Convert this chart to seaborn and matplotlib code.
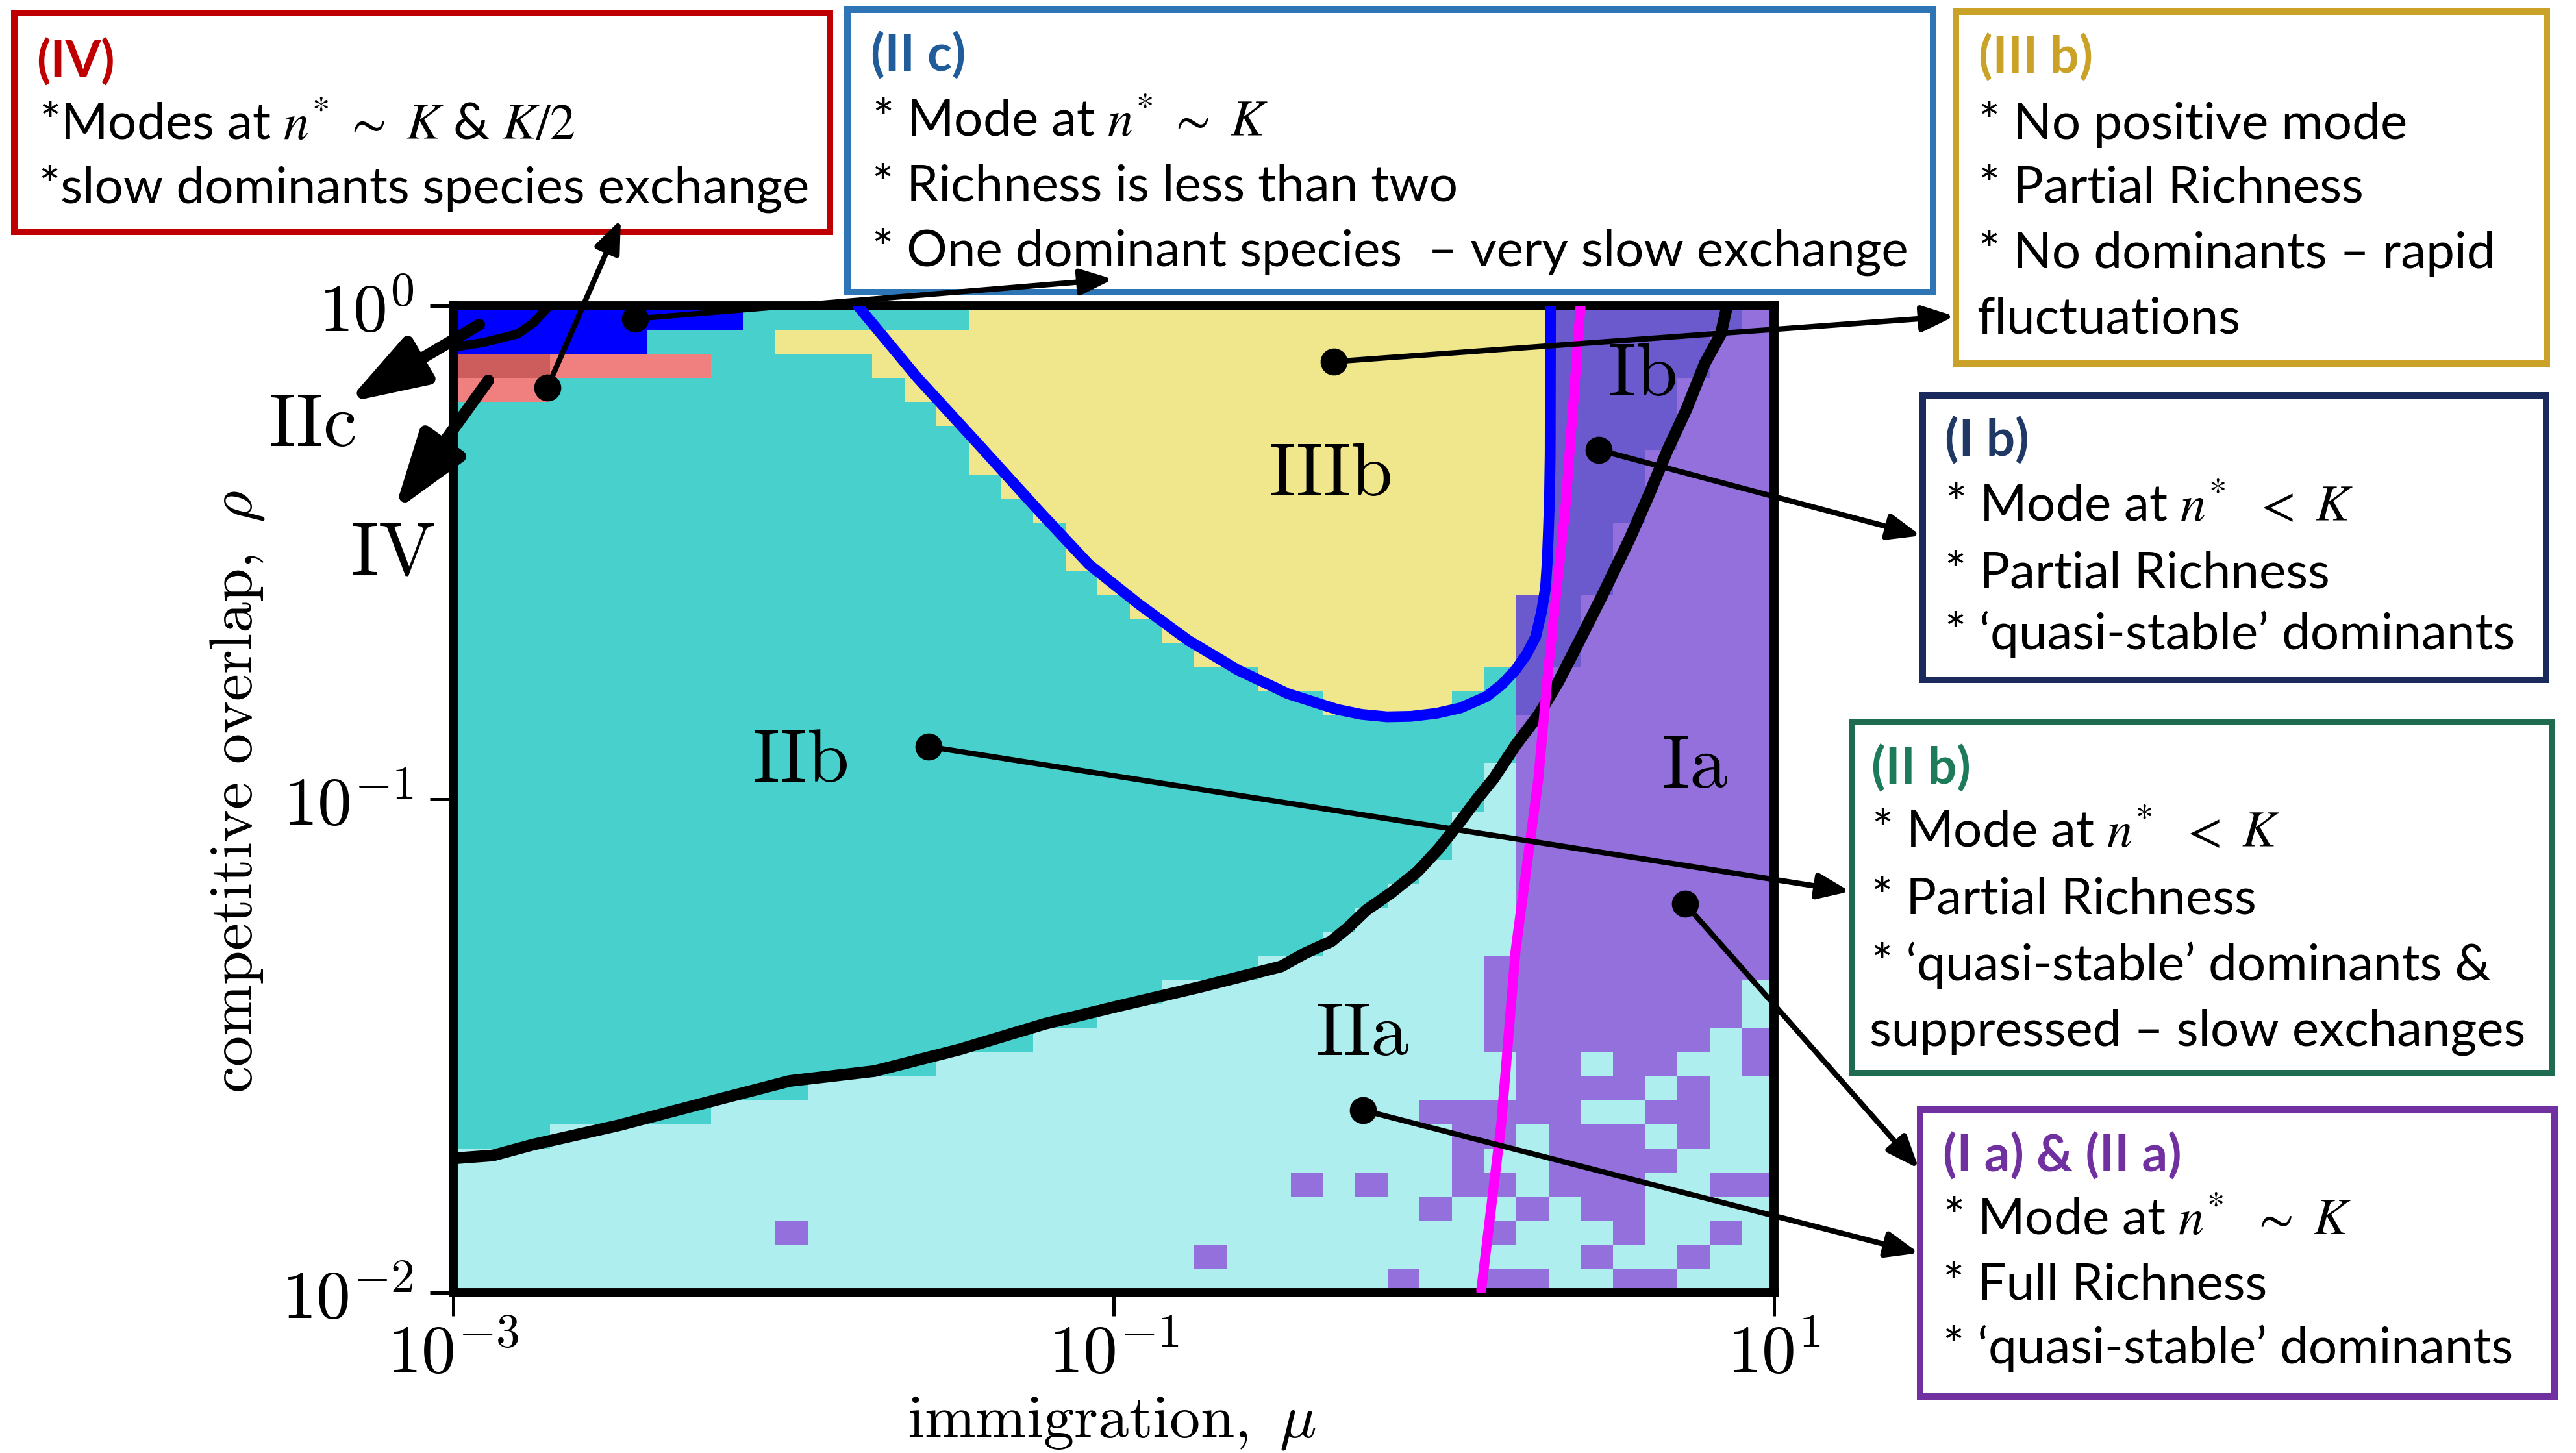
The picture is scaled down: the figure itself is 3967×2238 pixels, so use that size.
import numpy as np
import matplotlib
matplotlib.use("Agg")
import matplotlib.pyplot as plt
import seaborn as sns
from matplotlib.colors import ListedColormap
from matplotlib.patches import Rectangle, FancyArrowPatch
from matplotlib.ticker import FixedLocator, FuncFormatter, NullLocator

# ------------------------------------------------------------------ data
category_codes = ["B", "D", "P", "T", "L", "Y", "S", "M"]
category_names = ["IIc", "IV (overlap)", "IV", "IIb", "IIa", "IIIb", "Ib", "Ia"]
category_colors = ["#0000FF", "#CD5C5C", "#F08080", "#48D1CC",
                   "#AFEEEE", "#F0E68C", "#6A5ACD", "#9370DB"]

mu_limits = [1e-3, 1e1]       # immigration axis
rho_limits = [1e-2, 1e0]      # competitive overlap axis
mu_ticks = [1e-3, 1e-1, 1e1]
rho_ticks = [1e-2, 1e-1, 1e0]

# phase of each grid cell, run-length coded, top row (rho = 1) first
phase_rows = [
    "B9 T7 Y18 S6 M1",
    "B6 T4 Y24 S5 M2",
    "D3 P5 T5 Y21 S5 M2",
    "P3 T11 Y20 S4 M3",
    "T15 Y19 S4 M3",
    "T16 Y18 S4 M3",
    "T16 Y18 S3 M4",
    "T17 Y17 S3 M4",
    "T18 Y16 S3 M4",
    "T19 Y15 S2 M5",
    "T19 Y15 S2 M5",
    "T20 Y14 S2 M5",
    "T21 Y12 S2 M6",
    "T22 Y11 S2 M6",
    "T23 Y10 S2 M6",
    "T25 Y7 T1 S1 M7",
    "T27 Y4 T2 S1 M7",
    "T33 M8",
    "T33 M8",
    "T32 L1 M8",
    "T32 L1 M8",
    "T31 L2 M8",
    "T31 L2 M8",
    "T30 L3 M8",
    "T29 L4 M8",
    "T28 L5 M8",
    "T27 L6 M8",
    "T25 L7 M9",
    "T22 L10 M8 L1",
    "T20 L12 M8 L1",
    "T18 L14 M7 L1 M1",
    "T15 L18 M2 L1 M2 L2 M1",
    "T11 L22 M4 L1 M1 L2",
    "T8 L22 M5 L2 M2 L2",
    "T3 L28 M2 L1 M3 L1 M1 L2",
    "L31 M1 L2 M4 L3",
    "L26 M1 L1 M1 L2 M2 L1 M3 L2 M2",
    "L30 M1 L2 M1 L1 M2 L4",
    "L10 M1 L21 M1 L3 M1 L2 M1 L1",
    "L23 M1 L11 M1 L2 M1 L2",
    "L29 M1 L2 M2 L2 M2 L3",
]

# phase boundaries (log10 mu, log10 rho)
blue_log_mu = [-1.775, -1.594, -1.401, -1.226, -1.075, -0.925, -0.774, -0.624,
               -0.473, -0.323, -0.250, -0.172, -0.100, -0.023, 0.050, 0.129,
               0.175, 0.217, 0.250, 0.278, 0.296, 0.308, 0.313, 0.316, 0.320,
               0.322, 0.323]
blue_log_rho = [0.000, -0.146, -0.287, -0.416, -0.524, -0.604, -0.678, -0.738,
                -0.786, -0.818, -0.828, -0.833, -0.832, -0.826, -0.815, -0.792,
                -0.768, -0.738, -0.707, -0.671, -0.620, -0.571, -0.520, -0.470,
                -0.390, -0.301, 0.000]

black_log_mu = [-3.000, -2.880, -2.758, -2.499, -2.241, -1.981, -1.724, -1.466,
                -1.207, -0.990, -0.735, -0.493, -0.420, -0.341, -0.290, -0.235,
                -0.160, -0.080, -0.015, 0.050, 0.100, 0.150, 0.217, 0.288,
                0.347, 0.410, 0.477, 0.563, 0.620, 0.677, 0.734, 0.790, 0.839,
                0.858]
black_log_rho = [-1.728, -1.722, -1.700, -1.661, -1.616, -1.571, -1.551, -1.507,
                 -1.455, -1.420, -1.380, -1.339, -1.312, -1.288, -1.260, -1.225,
                 -1.190, -1.147, -1.100, -1.045, -1.000, -0.959, -0.891, -0.828,
                 -0.762, -0.680, -0.591, -0.472, -0.385, -0.293, -0.211, -0.117,
                 -0.057, 0.000]

iic_log_mu = [-3.000, -2.906, -2.805, -2.756, -2.719, -2.710]
iic_log_rho = [-0.084, -0.074, -0.057, -0.034, -0.007, 0.000]

magenta_log_mu = [0.414, 0.369, 0.316, 0.286, 0.217, 0.174, 0.113]
magenta_log_rho = [0.000, -0.403, -0.738, -0.960, -1.308, -1.657, -1.996]

# region labels (log10 mu, log10 rho)
region_labels = ["IIIb", "IIb", "IIa", "Ib", "Ia"]
region_label_log_mu = [-0.345, -1.950, -0.247, 0.599, 0.760]
region_label_log_rho = [-0.342, -0.922, -1.475, -0.139, -0.933]

# ------------------------------------------------------------------ figure
W, H = 3967, 2238
DPI = 200
fig = plt.figure(figsize=(W / DPI, H / DPI), dpi=DPI)
plt.rcParams["mathtext.fontset"] = "cm"

AX_L, AX_R, AX_T, AX_B = 698, 2732, 471, 1991
pos = [AX_L / W, 1 - AX_B / H, (AX_R - AX_L) / W, (AX_B - AX_T) / H]


def decode(row):
    out = []
    for tok in row.split():
        out += [tok[0]] * int(tok[1:])
    return out


grid = np.array([[category_codes.index(c) for c in decode(r)] for r in phase_rows])

ax_h = fig.add_axes(pos)
ax_h.set_zorder(1)
sns.heatmap(grid, ax=ax_h, cmap=ListedColormap(category_colors),
            vmin=-0.5, vmax=len(category_colors) - 0.5, cbar=False,
            xticklabels=False, yticklabels=False, linewidths=0)
ax_h.set_axis_off()

ax = fig.add_axes(pos)
ax.set_zorder(2)
ax.patch.set_alpha(0)
ax.set_xscale("log")
ax.set_yscale("log")
ax.set_xlim(*mu_limits)
ax.set_ylim(*rho_limits)


def tp(a):
    return 10 ** np.asarray(a)


line_kw = dict(solid_joinstyle="round", solid_capstyle="round")
ax.plot(tp(black_log_mu), tp(black_log_rho), color="black", lw=6.5, zorder=3, **line_kw)
ax.plot(tp(iic_log_mu), tp(iic_log_rho), color="black", lw=5.0, zorder=3, **line_kw)
ax.plot(tp(blue_log_mu), tp(blue_log_rho), color="#0000FF", lw=6.0, zorder=4, **line_kw)
ax.plot(tp(magenta_log_mu), tp(magenta_log_rho), color="#FF00FF", lw=5.5, zorder=5, **line_kw)

ax.xaxis.set_major_locator(FixedLocator(mu_ticks))
ax.yaxis.set_major_locator(FixedLocator(rho_ticks))
ax.xaxis.set_minor_locator(NullLocator())
ax.yaxis.set_minor_locator(NullLocator())
fmt = FuncFormatter(lambda v, p: r"$10^{%d}$" % int(round(np.log10(v))))
ax.xaxis.set_major_formatter(fmt)
ax.yaxis.set_major_formatter(fmt)
ax.tick_params(which="major", direction="out", length=13, width=1.8,
               labelsize=38, color="black")
ax.tick_params(axis="x", pad=3)
ax.tick_params(axis="y", pad=9)
for s in ax.spines.values():
    s.set_linewidth(5.0)
    s.set_color("black")

for lab, lx, ly in zip(region_labels, region_label_log_mu, region_label_log_rho):
    ax.text(10 ** lx, 10 ** ly, r"$\mathrm{%s}$" % lab, fontsize=42,
            ha="center", va="center", zorder=6)

# ------------------------------------------------------------------ overlay (pixel coords)
ov = fig.add_axes([0, 0, 1, 1])
ov.set_zorder(10)
ov.set_xlim(0, W)
ov.set_ylim(H, 0)
ov.axis("off")

ov.text(364, 1220, r"$\mathrm{competitive\ overlap,}\ \rho$", fontsize=34,
        rotation=90, ha="center", va="center")
ov.text(1712, 2214, r"$\mathrm{immigration,}\ \mu$", fontsize=34,
        ha="center", va="baseline")

ov.text(480, 655, r"$\mathrm{IIc}$", fontsize=42, ha="center", va="center")
ov.text(605, 852, r"$\mathrm{IV}$", fontsize=42, ha="center", va="center")

renderer = fig.canvas.get_renderer()
BODY = dict(family="Lato", math_fontfamily="stix")


def text_width(s, size, **kw):
    t = fig.text(0, 0, s, fontsize=size, **kw)
    w = t.get_window_extent(renderer=renderer).width
    t.remove()
    return w


body_size = 20 * 878 / text_width("* \u2018quasi-stable\u2019 dominants", 20, **BODY)

boxes = [
    # (x0, y0, x1, y1, border, title colour, title, title_x, title_base, lines, line_x, baselines)
    (22, 20, 1278, 357, "#C00000", "#C00000", "(IV)", 56, 120,
     [r"*Modes at $n^{*}\ \sim\ K$ & $K/2$", "*slow dominants species exchange"],
     60, [215, 313]),
    (1305, 15, 2977, 450, "#2E75B6", "#1F5C99", "(II c)", 1341, 110,
     [r"* Mode at $n^{*}\ \sim\ K$", "* Richness is less than two",
      "* One dominant species  \u2013 very slow exchange"],
     1343, [210, 310, 410]),
    (3012, 18, 3922, 560, "#C9A227", "#C9A227", "(III b)", 3047, 113,
     ["* No positive mode", "* Partial Richness", "* No dominants \u2013 rapid",
      "fluctuations"],
     3047, [214, 312, 413, 513]),
    (2961, 609, 3921, 1047, "#1B2A5C", "#1F3864", "(I b)", 2995, 703,
     [r"* Mode at $n^{*}\ \ <\ K$", "* Partial Richness",
      "* \u2018quasi-stable\u2019 dominants"],
     2995, [802, 905, 1000]),
    (2852, 1112, 3930, 1653, "#1E6B50", "#1E7B5A", "(II b)", 2882, 1208,
     [r"* Mode at $n^{*}\ \ <\ K$", "* Partial Richness",
      "* \u2018quasi-stable\u2019 dominants &", "suppressed \u2013 slow exchanges"],
     2882, [1304, 1407, 1510, 1611]),
    (2957, 1709, 3934, 2151, "#7030A0", "#7030A0", "(I a) & (II a)", 2992, 1805,
     [r"* Mode at $n^{*}\ \ \sim\ K$", "* Full Richness",
      "* \u2018quasi-stable\u2019 dominants"],
     2992, [1902, 2001, 2100]),
]

for (x0, y0, x1, y1, ec, tc, title, tx, tb, lines, lxp, bases) in boxes:
    ov.add_patch(Rectangle((x0, y0), x1 - x0, y1 - y0, fc="white", ec=ec,
                           lw=3.6, zorder=1))
    ov.text(tx, tb, title, fontsize=body_size, color=tc, fontweight="bold",
            ha="left", va="baseline", zorder=2, **BODY)
    for s, b in zip(lines, bases):
        xx = lxp - 3 if s.startswith("fluct") or s.startswith("supp") else lxp
        ov.text(xx, b, s, fontsize=body_size, color="black", ha="left",
                va="baseline", zorder=2, **BODY)

# thin dot-arrows connecting regions with boxes
dot_arrows = [
    ((843, 597), (956, 338)),
    ((978, 491), (1714, 430)),
    ((2054, 557), (3010, 487)),
    ((2462, 693), (2958, 825)),
    ((1430, 1150), (2849, 1373)),
    ((2595, 1392), (2955, 1800)),
    ((2099, 1710), (2955, 1930)),
]
for (sx, sy), (ex, ey) in dot_arrows:
    ov.plot([sx], [sy], "o", color="black", ms=14, zorder=5)
    ov.add_patch(FancyArrowPatch((sx, sy), (ex, ey),
                                 arrowstyle="-|>,head_length=0.75,head_width=0.3",
                                 mutation_scale=20, lw=3.0, color="black",
                                 shrinkA=0, shrinkB=0, zorder=5))

# thick arrows pointing to the IIc / IV labels
for (sx, sy), (ex, ey) in [((738, 500), (534, 620)), ((752, 586), (607, 788))]:
    ov.add_patch(FancyArrowPatch((sx, sy), (ex, ey),
                                 arrowstyle="-|>,head_length=0.9,head_width=0.3",
                                 mutation_scale=40, lw=6.5, color="black",
                                 shrinkA=0, shrinkB=0, zorder=5))

fig.savefig("out.png", dpi=DPI)
